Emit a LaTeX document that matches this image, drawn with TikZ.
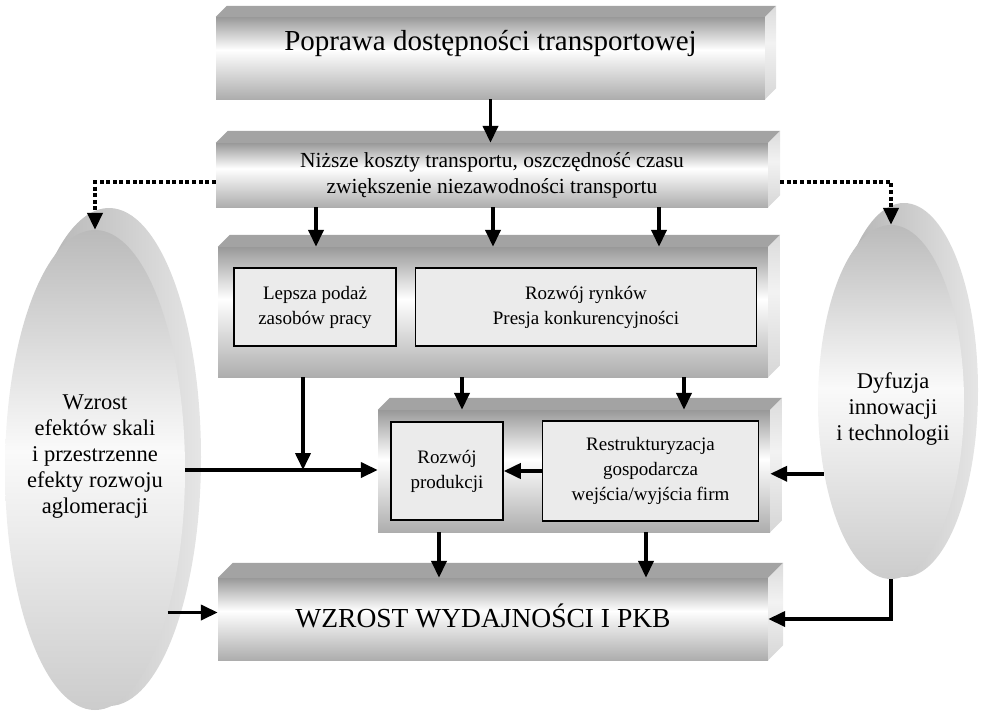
\documentclass[tikz,border=0pt]{standalone}
\usepackage{fontspec}
\setmainfont{Liberation Serif}
\usetikzlibrary{arrows.meta,shapes.geometric,positioning}

\pgfdeclareverticalshading{frontshade}{100bp}{color(0bp)=(black!32); color(25bp)=(black!32); color(55bp)=(white); color(75bp)=(black!40); color(100bp)=(black!40)}
\pgfdeclareverticalshading{sideshade}{100bp}{color(0bp)=(black!16); color(25bp)=(black!16); color(55bp)=(black!5); color(75bp)=(black!14); color(100bp)=(black!14)}
\pgfdeclareverticalshading{ovalshade}{100bp}{color(0bp)=(black!20); color(25bp)=(black!20); color(52bp)=(black!2); color(75bp)=(black!27); color(100bp)=(black!27)}

\begin{document}
\begin{tikzpicture}[x=1pt, y=-1pt,
    block/.style = {shade, shading=frontshade, inner sep=0pt, align=center},
    inner/.style = {draw, line width=1.5pt, fill=black!8, inner sep=0pt, align=center,
                    font=\fontsize{19}{25}\selectfont},
    oval/.style = {ellipse, shade, shading=ovalshade, inner sep=0pt},
    rim/.style = {ellipse, inner sep=0pt, left color=black!32, right color=black!10},
    label/.style = {align=center, font=\fontsize{22.5}{26}\selectfont},
    arr/.style = {line width=3.8pt, -{Triangle[length=17pt,width=15pt]}},
    dots/.style = {arr, line width=4.2pt, dash pattern=on 4pt off 2.6pt}]
\useasboundingbox (0,0) rectangle (983,713);

\node[rim, minimum width=184pt, minimum height=498pt] (r_1) at (109,457) {};
\node[oval, minimum width=180pt, minimum height=480pt] (o_1) at (95,470) {};
\node[rim, minimum width=148pt, minimum height=374pt] (r_2) at (904,390) {};
\node[oval, minimum width=146pt, minimum height=354pt] (o_2) at (891,402) {};
\node[label] (t_1) at (95,457) {Wzrost\\efektów skali\\i przestrzenne\\efekty rozwoju\\aglomeracji};
\node[label] (t_2) at (893,409) {Dyfuzja\\innowacji\\i technologii};

\node[block, minimum width=549pt, minimum height=82pt, text height=19pt, text depth=35pt,
      font=\fontsize{29}{33}\selectfont] (b_1) at (490.5,58) {Poprawa dostępności transportowej};
\node[block, minimum width=552pt, minimum height=64pt, font=\fontsize{21.5}{26}\selectfont] (b_2) at (492,175)
      {Niższe koszty transportu, oszczędność czasu\\zwiększenie niezawodności transportu};
\node[block, minimum width=550pt, minimum height=130pt] (b_3) at (493,312) {};
\node[block, minimum width=392pt, minimum height=122pt] (b_4) at (574,471) {};
\node[block, minimum width=550pt, minimum height=82pt, text height=20pt, text depth=4pt,
      font=\fontsize{27.5}{33}\selectfont] (b_5) at (493,619) {WZROST WYDAJNOŚCI I PKB\hspace*{20pt}};

\foreach \n/\s in {b_1/11, b_2/12, b_3/12, b_4/12, b_5/15} {
  \fill[black!36] (\n.north west) -- ++(\s,-\s) -- ([shift={(\s,-\s)}]\n.north east) -- (\n.north east) -- cycle;
  \shade[shading=sideshade] (\n.north east) -- ++(\s,-\s) -- ([shift={(\s,-\s)}]\n.south east) -- (\n.south east) -- cycle;
}

\node[inner, minimum width=162pt, minimum height=78pt] (i_1) at (315,307) {Lepsza podaż\\zasobów pracy};
\node[inner, minimum width=341pt, minimum height=78pt] (i_2) [right=18pt of i_1] {Rozwój rynków\\Presja konkurencyjności};
\node[inner, minimum width=112pt, minimum height=98pt] (i_3) at (447,471) {Rozwój\\produkcji};
\node[inner, minimum width=216pt, minimum height=100pt] (i_4) [right=38pt of i_3] {Restrukturyzacja\\gospodarcza\\wejścia/wyjścia firm};

\path[arr] (b_1.south) edge (b_1.south |- b_2.north);
\foreach \x in {316,493,659} \path[arr] (b_2.south -| \x,0) edge (b_3.north -| \x,0);
\foreach \x in {462,684} \path[arr] (b_3.south -| \x,0) edge (b_4.north -| \x,0);
\foreach \x in {439,646} \path[arr] (b_4.south -| \x,0) edge (b_5.north -| \x,0);
\draw[arr] (b_3.south -| 303,0) -- (o_1.east -| 303,0);
\draw[arr] (o_1.east) -- (o_1.east -| b_4.west);
\draw[arr] (i_4.west) -- (i_4.west -| i_3.east);
\draw[arr] (o_2.227) -- (o_2.227 -| b_4.east);
\draw[arr] (o_1.-63) -- (o_1.-63 -| b_5.west);
\draw[arr] (o_2.south) |- (b_5.east);
\draw[dots] ([yshift=-7pt]b_2.west) -| (o_1.north);
\draw[dots] ([shift={(12pt,-7pt)}]b_2.east) -| (o_2.north);
\end{tikzpicture}
\end{document}
